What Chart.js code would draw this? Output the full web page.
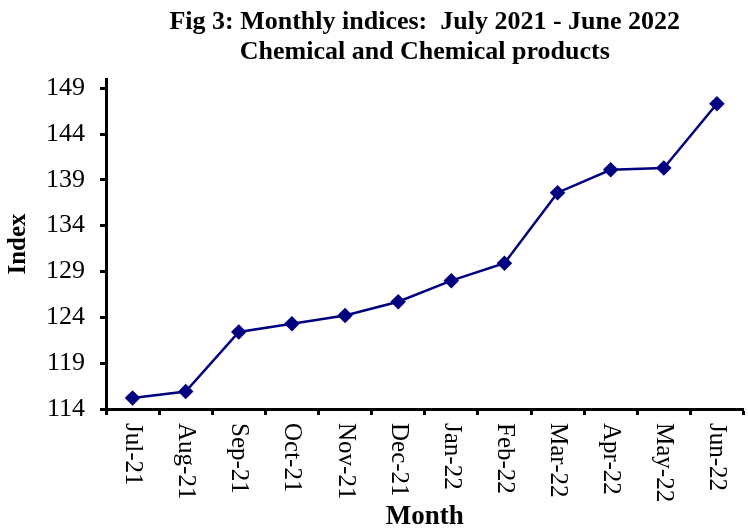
<!DOCTYPE html>
<html>
<head>
<meta charset="utf-8">
<script src="https://cdn.jsdelivr.net/npm/chart.js@4.4.0/dist/chart.umd.min.js"></script>
<style>
  html, body { margin: 0; padding: 0; background: #fff; overflow: hidden; }
  #wrap { width: 752px; height: 528px; }
</style>
</head>
<body>
<div id="wrap"><canvas id="indexChart"></canvas></div>
<script>
const months = ['Jul-21', 'Aug-21', 'Sep-21', 'Oct-21', 'Nov-21', 'Dec-21',
                'Jan-22', 'Feb-22', 'Mar-22', 'Apr-22', 'May-22', 'Jun-22'];
const indexValues = [115.2, 115.9, 122.4, 123.3, 124.2, 125.7,
                     128.0, 129.9, 137.6, 140.1, 140.3, 147.3];
const yTicks = [114, 119, 124, 129, 134, 139, 144, 149];

const serif = 'Liberation Serif';

// month labels read top-to-bottom, starting under each category
const downLabels = {
  id: 'downLabels',
  afterDraw(chart) {
    const x = chart.scales.x;
    const c = chart.ctx;
    c.save();
    c.fillStyle = '#000';
    c.font = '25px "' + serif + '"';
    c.textAlign = 'left';
    c.textBaseline = 'middle';
    months.forEach((m, i) => {
      c.save();
      c.translate(x.getPixelForValue(i), x.top + 14);
      c.rotate(Math.PI / 2);
      c.fillText(m, 0, 0);
      c.restore();
    });
    c.restore();
  }
};

const ctx = document.getElementById('indexChart').getContext('2d');

new Chart(ctx, {
  type: 'line',
  data: {
    labels: months,
    datasets: [{
      label: 'Index',
      data: indexValues,
      borderColor: '#000080',
      backgroundColor: '#000080',
      borderWidth: 2.5,
      pointStyle: 'rectRot',
      pointRadius: 6,
      pointHoverRadius: 6,
      tension: 0
    }]
  },
  options: {
    responsive: true,
    maintainAspectRatio: false,
    animation: false,
    layout: { padding: 0 },
    plugins: {
      legend: { display: false },
      tooltip: { enabled: false },
      title: {
        display: true,
        fullSize: false,
        text: ['Fig 3: Monthly indices:  July 2021 - June 2022', 'Chemical and Chemical products'],
        color: '#000',
        font: { family: serif, size: 26, weight: 'bold', lineHeight: 1.154 },
        padding: { top: 7, bottom: 12 }
      }
    },
    scales: {
      x: {
        offset: true,
        grid: {
          offset: true,
          drawOnChartArea: false,
          tickLength: 6,
          tickWidth: 3,
          tickColor: '#000'
        },
        border: { color: '#000', width: 3 },
        ticks: { color: 'rgba(0,0,0,0)', minRotation: 90, maxRotation: 90, font: { family: serif, size: 25 } },
        title: {
          display: true,
          text: 'Month',
          color: '#000',
          font: { family: serif, size: 27, weight: 'bold', lineHeight: 0.8 },
          padding: { top: 0, bottom: 0 }
        },
        afterFit(scale) { scale.height = 119; }
      },
      y: {
        min: 114,
        max: 150,
        afterBuildTicks(scale) { scale.ticks = yTicks.map(v => ({ value: v })); },
        grid: {
          drawOnChartArea: false,
          tickLength: 6,
          tickWidth: 3,
          tickColor: '#000'
        },
        border: { color: '#000', width: 3 },
        ticks: { color: '#000', padding: 15, font: { family: serif, size: 26 } },
        title: {
          display: true,
          text: 'Index',
          color: '#000',
          font: { family: serif, size: 25, weight: 'bold' },
          padding: { top: 4, bottom: 0 }
        },
        afterFit(scale) { scale.width = 106; }
      }
    }
  },
  plugins: [downLabels]
});
</script>
</body>
</html>
